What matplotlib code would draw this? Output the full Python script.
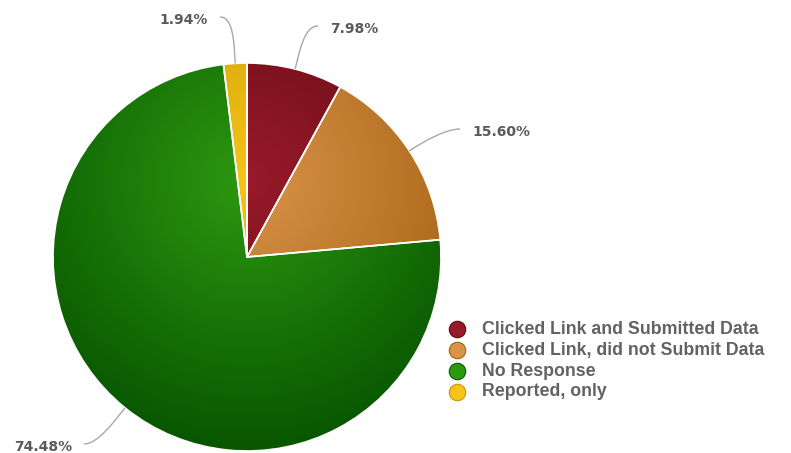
import numpy as np
import matplotlib.pyplot as plt
from matplotlib.path import Path
from matplotlib.patches import PathPatch
from matplotlib.colors import to_rgb

# data
labels = ['Clicked Link and Submitted Data', 'Clicked Link, did not Submit Data',
          'No Response', 'Reported, only']
values = [7.98, 15.60, 74.48, 1.94]
light = ['#981a2a', '#da944a', '#2c9810', '#f4c41a']
dark = ['#5e0810', '#a45e10', '#085600', '#c89600']

W, H = 791, 453
cx, cy, R = 247, H - 257, 194

fig = plt.figure(figsize=(W / 100, H / 100), dpi=100)
ax = fig.add_axes([0, 0, 1, 1])

wedges, _ = ax.pie(values, startangle=90, counterclock=False,
                   center=(cx, cy), radius=R, frame=True,
                   wedgeprops=dict(edgecolor='white', linewidth=1.2))

# shared radial gradient (light spot above the centre)
gx, gy, gr = cx, cy + R - 0.3 * 2 * R, 0.7 * 2 * R
xs = np.linspace(cx - R, cx + R, 400)
ys = np.linspace(cy - R, cy + R, 400)
X, Y = np.meshgrid(xs, ys)
t = np.clip(np.hypot(X - gx, Y - gy) / gr, 0, 1)[..., None]

for w, c0, c1 in zip(wedges, light, dark):
    img = np.array(to_rgb(c0)) * (1 - t) + np.array(to_rgb(c1)) * t
    im = ax.imshow(img, extent=(cx - R, cx + R, cy - R, cy + R), origin='lower',
                   interpolation='bilinear', zorder=1)
    im.set_clip_path(w)
    w.set_facecolor('none')
    w.set_zorder(2)

# data labels with soft connectors
lab_pos = [(330, 29, 'left'), (472, 132, 'left'), (72, 447, 'right'), (208, 20, 'right')]
for w, v, (lx, ly, ha) in zip(wedges, values, lab_pos):
    mid = np.deg2rad((w.theta1 + w.theta2) / 2)
    ex, ey = cx + R * np.cos(mid), cy + R * np.sin(mid)
    ly = H - ly
    side = 1 if ha == 'left' else -1
    px, py = lx - side * 12, ly + 3
    p1 = (ex + 18 * np.cos(mid), ey + 18 * np.sin(mid))
    p2 = (px - side * 14, py)
    path = Path([(ex, ey), p1, p2, (px, py)],
                [Path.MOVETO, Path.CURVE4, Path.CURVE4, Path.CURVE4])
    ax.add_patch(PathPatch(path, fill=False, edgecolor='#a8a8a8', lw=1, zorder=3))
    ax.text(lx, ly, '%.2f%%' % v, ha=ha, va='center', fontsize=10,
            fontweight='bold', color='#5a5a5a', family='DejaVu Sans')

# legend
leg_y = [329, 350, 371, 392]
for lab, c0, c1, yy in zip(labels, light, dark, leg_y):
    ax.scatter([457], [H - yy], s=140, color=c0, edgecolors=c1, linewidths=0.8, zorder=4)
    ax.text(482, H - yy, lab, ha='left', va='center', fontsize=12.8,
            fontweight='bold', color='#626262', family='Liberation Sans')

ax.set_xlim(0, W)
ax.set_ylim(0, H)
ax.set_aspect('auto')
ax.axis('off')
fig.savefig('out.png', dpi=100)
